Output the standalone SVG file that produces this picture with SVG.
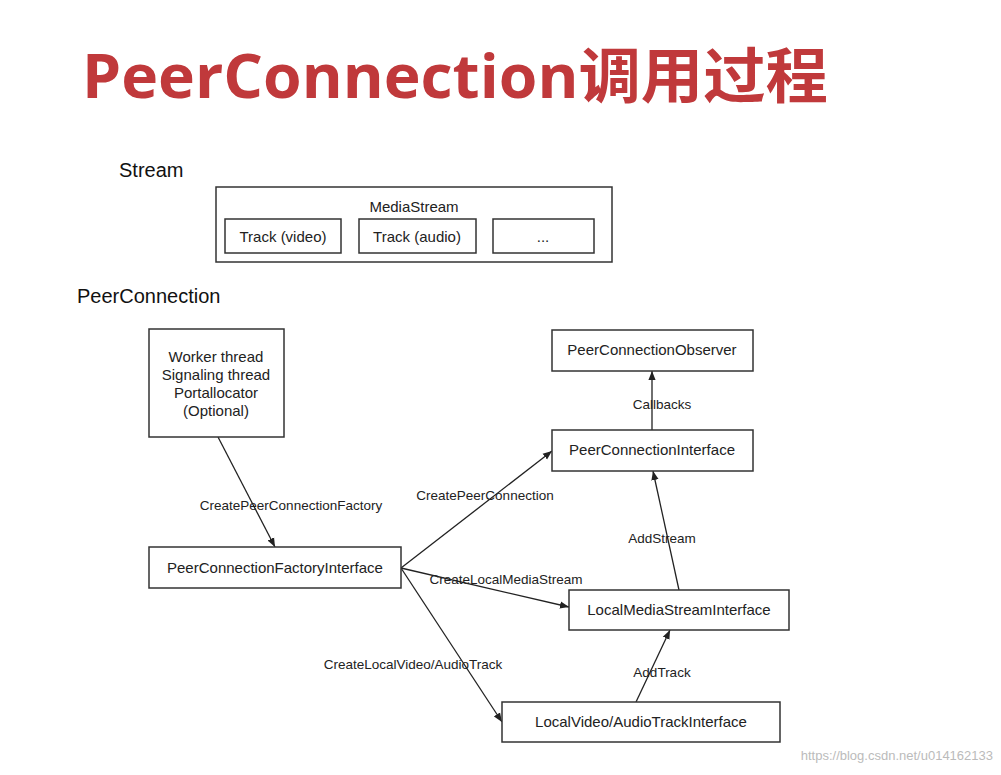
<svg xmlns="http://www.w3.org/2000/svg" width="1001" height="775" viewBox="0 0 1001 775">
<style>
.b{fill:#fff;stroke:#333;stroke-width:1.5}
.t{font-family:"Liberation Sans",Arial,sans-serif;font-size:15px;fill:#222;text-anchor:middle}
.l{font-family:"Liberation Sans",Arial,sans-serif;font-size:13.5px;fill:#222;text-anchor:middle}
.h{font-family:"Liberation Sans",Arial,sans-serif;font-size:20px;fill:#111}
.e{stroke:#222;stroke-width:1.3;fill:none;marker-end:url(#a)}
</style>
<defs><marker id="a" viewBox="0 0 10 10" refX="10" refY="5" markerWidth="7" markerHeight="7" orient="auto"><path d="M0,1 L10,5 L0,9 z" fill="#222"/></marker></defs>
<rect width="1001" height="775" fill="#fff"/>
<text x="82" y="98" font-family="'Open Sans','Noto Sans CJK SC',sans-serif" font-weight="bold" font-size="60" fill="#c0393b" textLength="746" lengthAdjust="spacingAndGlyphs">PeerConnection调用过程</text>
<text class="h" x="119" y="177">Stream</text>
<g id="mediastream"><rect class="b" x="216" y="187" width="396" height="75"/><text class="t" x="414" y="212" font-size="16">MediaStream</text></g>
<g id="track-video"><rect class="b" x="225" y="219" width="116" height="34"/><text class="t" x="283" y="242">Track (video)</text></g>
<g id="track-audio"><rect class="b" x="359" y="219" width="117" height="34"/><text class="t" x="417" y="242">Track (audio)</text></g>
<g id="track-more"><rect class="b" x="493" y="219" width="101" height="34"/><text class="t" x="543" y="242">...</text></g>
<text class="h" x="77" y="303">PeerConnection</text>
<g id="connectors">
<line class="e" x1="218" y1="437" x2="275" y2="547"/>
<line class="e" x1="401" y1="568" x2="552" y2="451"/>
<line class="e" x1="401" y1="568" x2="569" y2="607"/>
<line class="e" x1="401" y1="568" x2="502" y2="722"/>
<line class="e" x1="679" y1="590" x2="653" y2="471"/>
<line class="e" x1="636" y1="702" x2="670" y2="630"/>
<line class="e" x1="652" y1="430" x2="652" y2="371"/>
<text class="l" x="291" y="510">CreatePeerConnectionFactory</text>
<text class="l" x="485" y="500">CreatePeerConnection</text>
<text class="l" x="506" y="584">CreateLocalMediaStream</text>
<text class="l" x="413" y="669">CreateLocalVideo/AudioTrack</text>
<text class="l" x="662" y="543">AddStream</text>
<text class="l" x="662" y="677">AddTrack</text>
<text class="l" x="662" y="409" font-size="14.5">Callbacks</text>
</g>
<g id="worker"><rect class="b" x="149" y="329" width="135" height="108"/>
<text class="t" x="216" y="362">Worker thread</text><text class="t" x="216" y="380">Signaling thread</text><text class="t" x="216" y="398">Portallocator</text><text class="t" x="216" y="416">(Optional)</text></g>
<g id="factory"><rect class="b" x="149" y="547" width="252" height="41"/><text class="t" x="275" y="573">PeerConnectionFactoryInterface</text></g>
<g id="observer"><rect class="b" x="552" y="330" width="201" height="41"/><text class="t" x="652" y="355">PeerConnectionObserver</text></g>
<g id="pci"><rect class="b" x="552" y="430" width="201" height="41"/><text class="t" x="652" y="455">PeerConnectionInterface</text></g>
<g id="lms"><rect class="b" x="569" y="590" width="220" height="40"/><text class="t" x="679" y="615">LocalMediaStreamInterface</text></g>
<g id="lvat"><rect class="b" x="502" y="702" width="278" height="40"/><text class="t" x="641" y="727">LocalVideo/AudioTrackInterface</text></g>
<text x="993" y="760" text-anchor="end" font-family="'Liberation Sans',Arial,sans-serif" font-size="13" fill="#bbb">https://blog.csdn.net/u014162133</text>
</svg>
